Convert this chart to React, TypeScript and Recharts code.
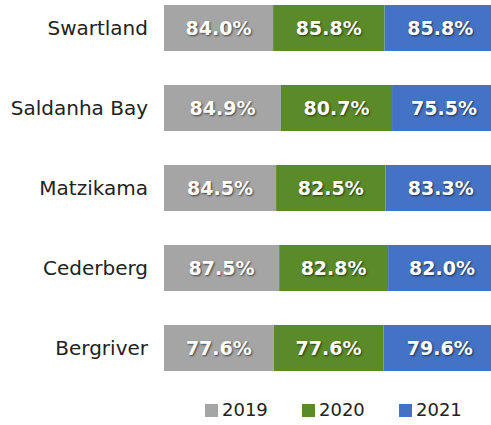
import { BarChart, Bar, XAxis, YAxis, Legend, LabelList } from "recharts";

const regions = ["Swartland", "Saldanha Bay", "Matzikama", "Cederberg", "Bergriver"];
const y2019 = [84.0, 84.9, 84.5, 87.5, 77.6];
const y2020 = [85.8, 80.7, 82.5, 82.8, 77.6];
const y2021 = [85.8, 75.5, 83.3, 82.0, 79.6];

const series = [
  { key: "y2019", name: "2019", color: "#A5A5A5", values: y2019 },
  { key: "y2020", name: "2020", color: "#5B8A29", values: y2020 },
  { key: "y2021", name: "2021", color: "#4472C4", values: y2021 },
];

const data = regions.map((region, i) => ({
  region,
  y2019: y2019[i],
  y2020: y2020[i],
  y2021: y2021[i],
}));

const FONT = "'DejaVu Sans', sans-serif";

const makeLabel = (values: number[]) => (props: any) => {
  const { x, y, width, height, index } = props;
  const v = values[index];
  return (
    <text
      x={x + width / 2}
      y={y + height / 2}
      textAnchor="middle"
      dominantBaseline="central"
      fill="#fff"
      fontSize={19}
      fontWeight="bold"
      fontFamily={FONT}
      style={{ textShadow: "1px 1px 2px rgba(0,0,0,0.6)" }}
    >
      {v.toFixed(1)}%
    </text>
  );
};

const LegendBox = () => (
  <div style={{ display: "flex", height: 20, lineHeight: "20px", fontFamily: FONT, fontSize: 18, color: "#222" }}>
    {series.map((s) => (
      <div key={s.key} style={{ display: "flex", alignItems: "center", width: 97 }}>
        <span style={{ display: "inline-block", width: 13, height: 13, background: s.color, marginRight: 4 }} />
        <span>{s.name}</span>
      </div>
    ))}
  </div>
);

export default function App() {
  return (
    <div style={{ position: "fixed", left: 0, top: 0, width: 491, height: 425, overflow: "hidden", background: "#fff" }}>
      <div style={{ position: "absolute", left: 0, top: -12 }}>
        <BarChart
          width={520}
          height={437}
          data={data}
          layout="vertical"
          stackOffset="expand"
          barCategoryGap={17}
          margin={{ top: 0, right: 24, bottom: 17, left: 0 }}
        >
          <XAxis type="number" hide domain={[0, 1]} />
          <YAxis
            type="category"
            dataKey="region"
            width={164}
            axisLine={false}
            tickLine={false}
            tickSize={0}
            tickMargin={16}
            tick={{ fill: "#222", fontSize: 20, fontFamily: FONT }}
          />
          <Legend content={<LegendBox />} wrapperStyle={{ left: 205, top: 412, width: "auto" }} />
          {series.map((s) => (
            <Bar key={s.key} dataKey={s.key} name={s.name} stackId="a" fill={s.color} isAnimationActive={false}>
              <LabelList dataKey={s.key} content={makeLabel(s.values)} />
            </Bar>
          ))}
        </BarChart>
      </div>
    </div>
  );
}
